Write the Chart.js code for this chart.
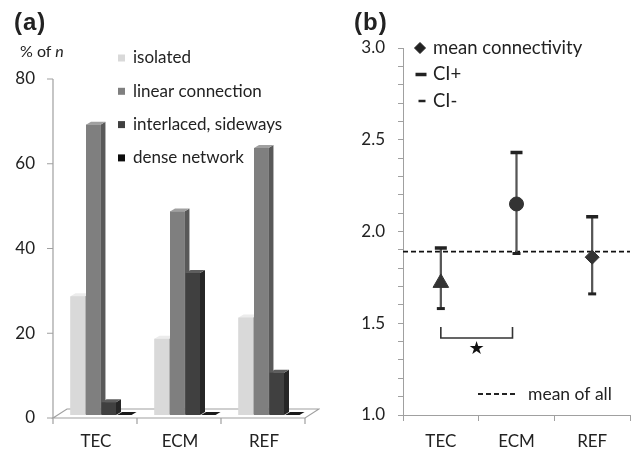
<!DOCTYPE html>
<html lang="en">
<head>
    <meta charset="UTF-8">
    <title>Connectivity of cell contacts</title>
    <script src="https://cdn.jsdelivr.net/npm/chart.js"></script>
    <style>
        body { margin: 0; background: #fff; width: 635px; height: 454px; overflow: hidden; position: relative; font-family: Lato, sans-serif; color: #222; }
        canvas { position: absolute; top: 0; }
        #barChart { left: 0; }
        #ciChart { left: 320px; }
        .panel { position: absolute; font: bold 24px "Liberation Sans", Arial, sans-serif; letter-spacing: 1px; }
        .unit { position: absolute; left: 20px; top: 41px; font-size: 16px; }
    </style>
</head>
<body>
    <canvas id="barChart" width="320" height="454"></canvas>
    <canvas id="ciChart" width="320" height="454"></canvas>
    <div class="panel" style="left:14px; top:8px;">(a)</div>
    <div class="panel" style="left:354px; top:8px;">(b)</div>
    <div class="unit">% of <i>n</i></div>

    <script>
        // panel (a): share of contact types per group (% of n)
        const groups = ['TEC', 'ECM', 'REF'];
        const isolated = [28, 18, 23];
        const linearConnection = [68.5, 48, 63];
        const interlaced = [3, 33.5, 10];
        const denseNetwork = [0, 0, 0];
        const contactTypes = ['isolated', 'linear connection', 'interlaced, sideways', 'dense network'];
        const percentTicks = { min: 0, max: 80, step: 20 };

        // panel (b): mean connectivity with confidence interval
        const conditions = ['TEC', 'ECM', 'REF'];
        const meanConnectivity = [1.72, 2.15, 1.86];
        const ciPlus = [1.91, 2.43, 2.08];
        const ciMinus = [1.58, 1.88, 1.66];
        const meanOfAll = 1.89;
        const connTicks = { min: 1, max: 3, step: 0.1 };
        const bracketTop = 1.48;
        const bracketBottom = 1.42;
        const starLevel = 1.36;

        Chart.defaults.font.family = 'Lato, sans-serif';
        Chart.defaults.font.size = 17;
        Chart.defaults.color = '#222';

        const frontColors = ['#d9d9d9', '#7f7f7f', '#404040', '#0d0d0d'];
        const sideColors = ['#b3b3b3', '#595959', '#262626', '#000000'];
        const topColors = ['#ececec', '#a0a0a0', '#5e5e5e', '#1a1a1a'];
        const axisGray = '#a0a0a0';

        function poly(ctx, pts) {
            ctx.beginPath();
            ctx.moveTo(pts[0][0], pts[0][1]);
            pts.slice(1).forEach(p => ctx.lineTo(p[0], p[1]));
            ctx.closePath();
        }

        // floor, front axis and 3D faces for panel (a)
        const bars3d = {
            id: 'bars3d',
            beforeDatasetsDraw(chart) {
                const { ctx, chartArea: a, scales: { x, y } } = chart;
                const fx = -6, fy = 3, bx = 8, by = -6;
                ctx.save();
                ctx.strokeStyle = axisGray;
                ctx.lineWidth = 1.2;
                poly(ctx, [[a.left + fx, a.bottom + fy], [a.left + bx, a.bottom + by],
                           [a.right + bx, a.bottom + by], [a.right + fx, a.bottom + fy]]);
                ctx.stroke();
                // front y axis
                ctx.beginPath();
                ctx.moveTo(a.left + fx, y.getPixelForValue(percentTicks.max) + fy);
                ctx.lineTo(a.left + fx, a.bottom + fy);
                y.ticks.forEach(t => {
                    const py = y.getPixelForValue(t.value) + fy;
                    ctx.moveTo(a.left + fx - 6, py);
                    ctx.lineTo(a.left + fx, py);
                });
                // category boundary ticks on the front edge
                const w = (a.right - a.left) / groups.length;
                for (let i = 0; i <= groups.length; i++) {
                    const px = a.left + i * w + fx;
                    ctx.moveTo(px, a.bottom + fy);
                    ctx.lineTo(px, a.bottom + fy + 6);
                }
                ctx.stroke();
                ctx.restore();
            },
            afterDatasetsDraw(chart) {
                const { ctx } = chart;
                const d = 5, h = 3;
                ctx.save();
                groups.forEach((_, i) => {
                    chart.data.datasets.forEach((ds, k) => {
                        const bar = chart.getDatasetMeta(k).data[i];
                        const { x, y, base, width } = bar.getProps(['x', 'y', 'base', 'width'], true);
                        const l = x - width / 2, r = x + width / 2;
                        ctx.fillStyle = sideColors[k];
                        poly(ctx, [[r, y], [r + d, y - h], [r + d, base - h], [r, base]]);
                        ctx.fill();
                        ctx.fillStyle = topColors[k];
                        poly(ctx, [[l, y], [l + d, y - h], [r + d, y - h], [r, y]]);
                        ctx.fill();
                        ctx.fillStyle = frontColors[k];
                        ctx.fillRect(l, y, width, base - y);
                    });
                });
                // legend
                const a = chart.chartArea;
                ctx.font = '17px Lato, sans-serif';
                ctx.textBaseline = 'middle';
                contactTypes.forEach((name, k) => {
                    const ly = a.top - 18 + k * 33.3;
                    ctx.fillStyle = frontColors[k];
                    ctx.fillRect(a.left + 59, ly - 3.5, 7, 7);
                    ctx.fillStyle = '#222';
                    ctx.fillText(name, a.left + 74, ly);
                });
                ctx.restore();
            }
        };

        new Chart(document.getElementById('barChart'), {
            type: 'bar',
            data: {
                labels: groups,
                datasets: [isolated, linearConnection, interlaced, denseNetwork].map((vals, k) => ({
                    label: contactTypes[k],
                    data: vals,
                    backgroundColor: frontColors[k],
                    categoryPercentage: 0.74,
                    barPercentage: 0.93
                }))
            },
            options: {
                responsive: false,
                animation: false,
                devicePixelRatio: 1,
                layout: { padding: { top: 76, right: 9 } },
                plugins: { legend: { display: false }, tooltip: { enabled: false } },
                scales: {
                    x: {
                        grid: { display: false, drawTicks: false },
                        border: { display: false },
                        ticks: { padding: 16, labelOffset: -5 },
                        afterFit: s => { s.height = 39; }
                    },
                    y: {
                        min: percentTicks.min,
                        max: percentTicks.max,
                        grid: { display: false, drawTicks: false },
                        border: { display: false },
                        ticks: { stepSize: percentTicks.step, padding: 24, labelOffset: 3 },
                        afterFit: s => { s.width = 59; }
                    }
                }
            },
            plugins: [bars3d]
        });

        // mean-of-all line, significance bracket and legend for panel (b)
        const ciExtras = {
            id: 'ciExtras',
            beforeDatasetsDraw(chart) {
                const { ctx, chartArea: a, scales: { y } } = chart;
                const py = y.getPixelForValue(meanOfAll);
                ctx.save();
                ctx.strokeStyle = '#111';
                ctx.lineWidth = 1.8;
                ctx.setLineDash([5, 3]);
                ctx.beginPath();
                ctx.moveTo(a.left, py);
                ctx.lineTo(a.right, py);
                ctx.stroke();
                ctx.restore();
            },
            afterDatasetsDraw(chart) {
                const { ctx, chartArea: a, scales: { x, y } } = chart;
                ctx.save();
                // bracket + star
                const x0 = x.getPixelForValue(0), x1 = x.getPixelForValue(1) - 4;
                const yt = y.getPixelForValue(bracketTop), yb = y.getPixelForValue(bracketBottom);
                ctx.strokeStyle = '#333';
                ctx.lineWidth = 1.6;
                ctx.beginPath();
                ctx.moveTo(x0, yt); ctx.lineTo(x0, yb); ctx.lineTo(x1, yb); ctx.lineTo(x1, yt);
                ctx.stroke();
                ctx.fillStyle = '#111';
                ctx.font = '18px "DejaVu Sans"';
                ctx.textAlign = 'center';
                ctx.textBaseline = 'middle';
                ctx.fillText('\u2605', (x0 + x1) / 2, y.getPixelForValue(starLevel));

                // legend
                ctx.textAlign = 'left';
                ctx.font = '18.5px Lato, sans-serif';
                ctx.fillStyle = '#222';
                ctx.strokeStyle = '#222';
                const entries = [
                    { text: 'mean connectivity', style: 'rectRot', radius: 5.5, bw: 1, dx: 17 },
                    { text: 'CI+', style: 'line', radius: 5.5, bw: 3.5, dx: 18 },
                    { text: 'CI-', style: 'line', radius: 3.5, bw: 2.5, dx: 19 }
                ];
                entries.forEach((e, k) => {
                    const ly = a.top + k * 26.5;
                    ctx.lineWidth = e.bw;
                    Chart.helpers.drawPoint(ctx, { pointStyle: e.style, radius: e.radius, borderWidth: e.bw, rotation: 0 }, a.left + e.dx, ly);
                    ctx.fillText(e.text, a.left + 30, ly);
                });
                const my = a.bottom - 21;
                ctx.font = '17.5px Lato, sans-serif';
                ctx.lineWidth = 1.8;
                ctx.setLineDash([5, 3]);
                ctx.beginPath();
                ctx.moveTo(a.left + 75, my);
                ctx.lineTo(a.left + 112, my);
                ctx.stroke();
                ctx.setLineDash([]);
                ctx.fillText('mean of all', a.left + 125, my);
                ctx.restore();
            }
        };

        new Chart(document.getElementById('ciChart'), {
            type: 'bar',
            data: {
                labels: conditions,
                datasets: [
                    {
                        type: 'line',
                        label: 'mean connectivity',
                        data: meanConnectivity,
                        showLine: false,
                        pointStyle: ['triangle', 'circle', 'rectRot'],
                        pointRadius: [9, 7, 7],
                        pointBackgroundColor: '#333',
                        pointBorderColor: '#333',
                        order: 0
                    },
                    {
                        type: 'line',
                        label: 'CI+',
                        data: ciPlus,
                        showLine: false,
                        pointStyle: 'line',
                        pointRadius: 6,
                        pointBorderWidth: 3.5,
                        pointBorderColor: '#222',
                        order: 1
                    },
                    {
                        type: 'line',
                        label: 'CI-',
                        data: ciMinus,
                        showLine: false,
                        pointStyle: 'line',
                        pointRadius: 4,
                        pointBorderWidth: 3,
                        pointBorderColor: '#222',
                        order: 1
                    },
                    {
                        label: 'CI range',
                        data: conditions.map((_, i) => [ciMinus[i], ciPlus[i]]),
                        backgroundColor: '#555',
                        barThickness: 1.6,
                        order: 2
                    }
                ]
            },
            options: {
                responsive: false,
                animation: false,
                devicePixelRatio: 1,
                layout: { padding: { top: 48, right: 3 } },
                plugins: { legend: { display: false }, tooltip: { enabled: false } },
                scales: {
                    x: {
                        grid: { offset: true, drawOnChartArea: false, tickLength: 6, color: axisGray },
                        border: { color: axisGray },
                        ticks: { padding: 10 },
                        afterFit: s => { s.height = 39; }
                    },
                    y: {
                        min: connTicks.min,
                        max: connTicks.max,
                        grid: { drawOnChartArea: false, tickLength: 5, color: axisGray },
                        border: { color: axisGray },
                        ticks: {
                            stepSize: connTicks.step,
                            autoSkip: false,
                            padding: 13,
                            callback: v => Math.abs(v * 2 - Math.round(v * 2)) < 1e-6 ? v.toFixed(1) : ''
                        },
                        afterFit: s => { s.width = 83; }
                    }
                }
            },
            plugins: [ciExtras]
        });
    </script>
</body>
</html>
